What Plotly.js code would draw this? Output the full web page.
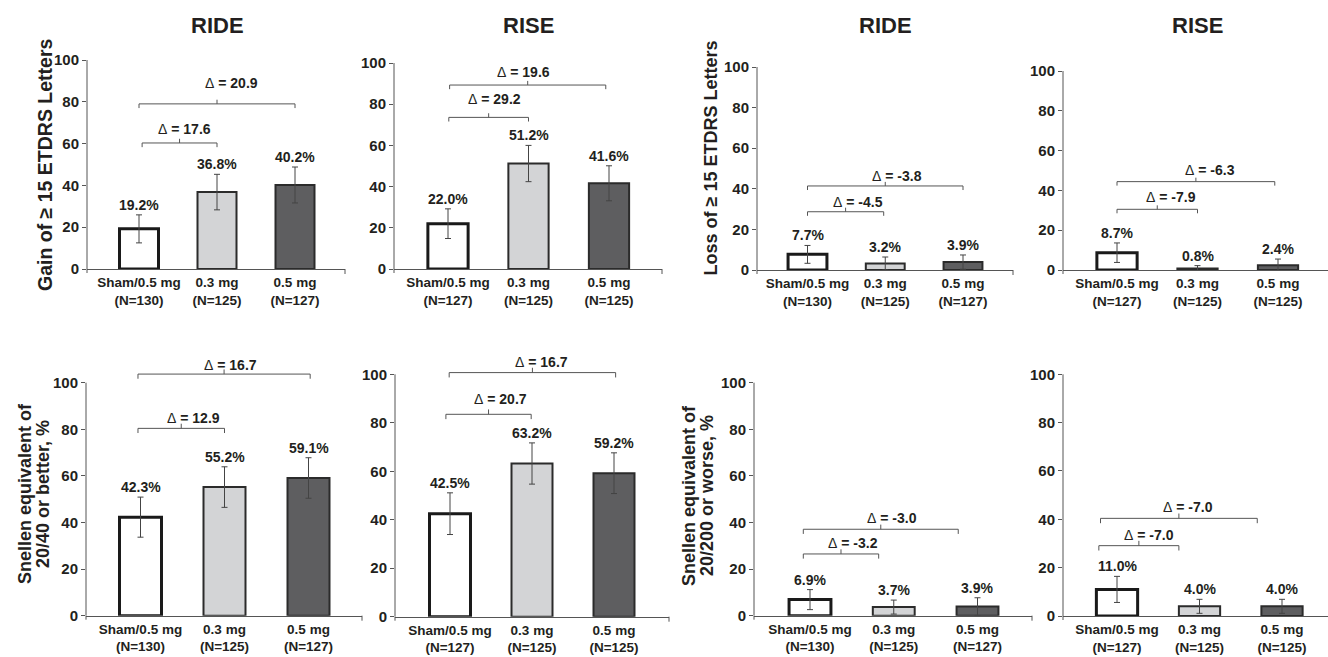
<!DOCTYPE html>
<html><head><meta charset="utf-8">
<script src="https://cdn.plot.ly/plotly-3.0.1.min.js"></script>
<style>html,body{margin:0;padding:0;background:#fff}#chart{width:1328px;height:657px}</style>
</head><body><div id="chart"></div>
<script>
// ---------------- DATA ----------------
const doseLabels = ['Sham/0.5 mg', '0.3 mg', '0.5 mg'];
const nRIDE = [130, 125, 127];
const nRISE = [127, 125, 125];
const studyTitles = ['RIDE', 'RISE', 'RIDE', 'RISE'];

const gainRIDE = [19.2, 36.8, 40.2];
const gainRIDEErr = [6.7, 8.5, 8.6];
const gainRIDEDelta = [17.6, 20.9];

const gainRISE = [22.0, 51.2, 41.6];
const gainRISEErr = [7.2, 8.8, 8.5];
const gainRISEDelta = [29.2, 19.6];

const lossRIDE = [7.7, 3.2, 3.9];
const lossRIDEErr = [4.4, 3.2, 3.5];
const lossRIDEDelta = [-4.5, -3.8];

const lossRISE = [8.7, 0.8, 2.4];
const lossRISEErr = [4.9, 1.4, 3.1];
const lossRISEDelta = [-7.9, -6.3];

const betterRIDE = [42.3, 55.2, 59.1];
const betterRIDEErr = [8.6, 8.7, 8.7];
const betterRIDEDelta = [12.9, 16.7];

const betterRISE = [42.5, 63.2, 59.2];
const betterRISEErr = [8.6, 8.5, 8.4];
const betterRISEDelta = [20.7, 16.7];

const worseRIDE = [6.9, 3.7, 3.9];
const worseRIDEErr = [4.3, 3.0, 3.8];
const worseRIDEDelta = [-3.2, -3.0];

const worseRISE = [11.0, 4.0, 4.0];
const worseRISEErr = [5.4, 2.9, 2.9];
const worseRISEDelta = [-7.0, -7.0];

const yTickVals = [0, 20, 40, 60, 80, 100];

// ---------------- LAYOUT / STYLE ----------------
const W = 1328, H = 657, YMAX = 110;
const FONT = 'Liberation Sans, Arial, Helvetica, sans-serif';
const TXT = '#231f20';
const AXIS = '#555555';
const BR = '#555555';
const fills = ['#ffffff', '#d3d4d6', '#5e5e60'];
const outlineW = [3, 2, 2];
const outlineC = ['#1a1a1a', '#2b2b2b', '#2b2b2b'];

const panels = [
  {vals: gainRIDE, errs: gainRIDEErr, deltas: gainRIDEDelta, n: nRIDE},
  {vals: gainRISE, errs: gainRISEErr, deltas: gainRISEDelta, n: nRISE},
  {vals: lossRIDE, errs: lossRIDEErr, deltas: lossRIDEDelta, n: nRIDE},
  {vals: lossRISE, errs: lossRISEErr, deltas: lossRISEDelta, n: nRISE},
  {vals: betterRIDE, errs: betterRIDEErr, deltas: betterRIDEDelta, n: nRIDE},
  {vals: betterRISE, errs: betterRISEErr, deltas: betterRISEDelta, n: nRISE},
  {vals: worseRIDE, errs: worseRIDEErr, deltas: worseRIDEDelta, n: nRIDE},
  {vals: worseRISE, errs: worseRISEErr, deltas: worseRISEDelta, n: nRISE}
];

// pixel boxes of each panel (axis start/end, first/last bar centre, y=100 and y=0)
const boxes = [
  {left: 87,  right: 345,  p1: 139,   p3: 295,   y100: 60,    y0: 269},
  {left: 394, right: 662,  p1: 448,   p3: 609,   y100: 63,    y0: 269},
  {left: 757, right: 1013, p1: 807.5, p3: 963,   y100: 67,    y0: 270},
  {left: 1063,right: 1328, p1: 1117,  p3: 1278,  y100: 71,    y0: 270},
  {left: 86,  right: 362,  p1: 140.5, p3: 308.5, y100: 382.7, y0: 615.7},
  {left: 395, right: 669,  p1: 450,   p3: 614,   y100: 374.3, y0: 616.7},
  {left: 754, right: 1032, p1: 810,   p3: 977.5, y100: 382.7, y0: 615.7},
  {left: 1063,right: 1328, p1: 1117,  p3: 1282,  y100: 374.3, y0: 616}
];

// bracket placement (category units / axis units): [to 0.3 mg, to 0.5 mg]
const bracketPos = [
  [{x0: 0.04, x1: 1.0, lvl: 60.3, lx: 0.58, ly: 67},   {x0: 0, x1: 2, lvl: 79, lx: 1.18, ly: 89}],
  [{x0: 0.01, x1: 1.0, lvl: 73.6, lx: 0.58, ly: 82.5}, {x0: 0.02, x1: 1.96, lvl: 89.3, lx: 0.94, ly: 95.6}],
  [{x0: 0, x1: 0.98, lvl: 28.7, lx: 0.65, ly: 33.6},   {x0: 0, x1: 2.0, lvl: 41.4, lx: 1.15, ly: 46.4}],
  [{x0: 0, x1: 1.0, lvl: 30.5, lx: 0.67, ly: 36.5},    {x0: 0, x1: 1.96, lvl: 44.4, lx: 1.16, ly: 50.3}],
  [{x0: -0.03, x1: 1.0, lvl: 80.4, lx: 0.63, ly: 84.7}, {x0: -0.03, x1: 2.02, lvl: 103.7, lx: 1.07, ly: 107.6}],
  [{x0: -0.05, x1: 0.99, lvl: 83.5, lx: 0.61, ly: 89.7}, {x0: -0.01, x1: 2.02, lvl: 100.7, lx: 1.12, ly: 104.9}],
  [{x0: -0.08, x1: 0.82, lvl: 26.5, lx: 0.51, ly: 31.3}, {x0: -0.08, x1: 1.77, lvl: 37.1, lx: 0.98, ly: 42}],
  [{x0: -0.22, x1: 0.75, lvl: 29.1, lx: 0.39, ly: 33.5}, {x0: -0.2, x1: 1.7, lvl: 40.4, lx: 0.86, ly: 45}]
];

const yTitles = [
  {lines: ['Gain of \u2265 15 ETDRS Letters'], xs: [45], y: 165, size: 19.5},
  {lines: ['Loss of \u2265 15 ETDRS Letters'], xs: [710], y: 158.5, size: 18},
  {lines: ['Snellen equivalent of', '20/40 or better, %'], xs: [25, 43], y: 494, size: 18},
  {lines: ['Snellen equivalent of', '20/200 or worse, %'], xs: [689, 707], y: 496, size: 18}
];

const traces = [];
const layout = {
  width: W, height: H,
  margin: {l: 0, r: 0, t: 0, b: 0},
  paper_bgcolor: '#ffffff', plot_bgcolor: 'rgba(0,0,0,0)',
  showlegend: false, hovermode: false,
  font: {family: FONT, color: TXT, weight: 'bold'},
  shapes: [], annotations: []
};

panels.forEach((p, i) => {
  const b = boxes[i];
  const k = i === 0 ? '' : String(i + 1);
  const xid = 'x' + k, yid = 'y' + k;
  const s = (b.p3 - b.p1) / 2;
  const xr = [-(b.p1 - b.left) / s, 2 + (b.right - b.p3) / s];
  const yTopPx = b.y0 - (YMAX / 100) * (b.y0 - b.y100);

  layout['xaxis' + k] = {
    domain: [b.left / W, b.right / W], range: xr, anchor: yid,
    tickvals: [0, 1, 2],
    ticktext: doseLabels.map((d, j) => d + '<br>(N=' + p.n[j] + ')'),
    ticks: 'outside', ticklen: 1, tickcolor: 'rgba(0,0,0,0)',
    showline: true, linecolor: AXIS, linewidth: 1,
    showgrid: false, zeroline: false, fixedrange: true,
    tickfont: {size: 13.5, family: FONT, color: TXT, weight: 'bold'}
  };
  layout['yaxis' + k] = {
    domain: [1 - b.y0 / H, 1 - yTopPx / H], range: [0, YMAX], anchor: xid,
    tickvals: yTickVals, ticks: 'outside', ticklen: 4, tickcolor: AXIS, tickwidth: 1,
    showline: false, showgrid: false, zeroline: false, fixedrange: true,
    tickfont: {size: 15, family: FONT, color: TXT, weight: 'bold'}
  };

  traces.push({
    type: 'bar', x: [0, 1, 2], y: p.vals, width: 0.5,
    xaxis: xid, yaxis: yid,
    marker: {color: fills, line: {color: outlineC, width: outlineW}},
    error_y: {type: 'data', array: p.errs, visible: true, color: '#444', thickness: 1, width: 3}
  });

  // y axis line 0..100 and small extension below 0
  layout.shapes.push({type: 'line', xref: xid + ' domain', yref: yid, x0: 0, x1: 0, y0: 0, y1: 100,
    line: {color: AXIS, width: 1}});
  layout.shapes.push({type: 'line', xref: xid + ' domain', yref: yid + ' domain', ysizemode: 'pixel',
    yanchor: 0, x0: 0, x1: 0, y0: 0, y1: -4, line: {color: AXIS, width: 1}});
  if (b.right < W) {
    layout.shapes.push({type: 'line', xref: xid + ' domain', yref: yid + ' domain', ysizemode: 'pixel',
      yanchor: 0, x0: 1, x1: 1, y0: 0, y1: -5, line: {color: AXIS, width: 1}});
  }

  // value labels
  p.vals.forEach((v, j) => {
    layout.annotations.push({xref: xid, yref: yid, x: j, y: v + p.errs[j], yanchor: 'bottom',
      showarrow: false, text: v.toFixed(1) + '%',
      font: {size: 14, family: FONT, color: TXT, weight: 'bold'}});
  });

  // comparison brackets
  bracketPos[i].forEach((bp, j) => {
    const m = (bp.x0 + bp.x1) / 2;
    layout.shapes.push({type: 'path', xref: xid, yref: yid,
      path: `M${bp.x0},${bp.lvl - 2}L${bp.x0},${bp.lvl}L${bp.x1},${bp.lvl}L${bp.x1},${bp.lvl - 2}M${m},${bp.lvl}L${m},${bp.lvl + 2}`,
      line: {color: BR, width: 1}});
    layout.annotations.push({xref: xid, yref: yid, x: bp.lx, y: bp.ly, showarrow: false,
      xanchor: 'center', yanchor: 'middle',
      text: '<span style="font-weight:normal">\u0394</span> = ' + p.deltas[j].toFixed(1),
      font: {size: 14, family: FONT, color: TXT, weight: 'bold'}});
  });

  // study titles on the top row
  if (i < 4) {
    layout.annotations.push({xref: xid, yref: 'paper', x: 1, y: 1 - 25 / H, showarrow: false,
      xanchor: 'center', yanchor: 'middle',
      text: studyTitles[i], font: {size: 22, family: FONT, color: TXT, weight: 'bold'}});
  }
});

yTitles.forEach(t => {
  t.lines.forEach((ln, j) => {
    layout.annotations.push({xref: 'paper', yref: 'paper', x: t.xs[j] / W, y: 1 - t.y / H,
      xanchor: 'center', yanchor: 'middle',
      textangle: -90, showarrow: false, text: ln,
      font: {size: t.size, family: FONT, color: TXT, weight: 'bold'}});
  });
});

Plotly.newPlot('chart', traces, layout, {displayModeBar: false, staticPlot: true});
</script></body></html>
